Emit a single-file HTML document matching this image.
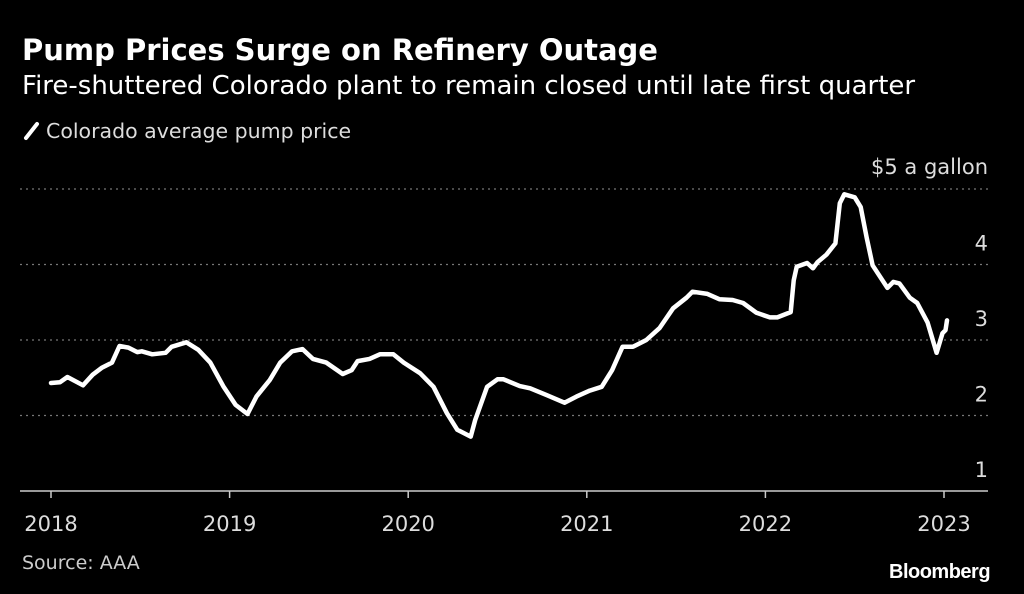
<!DOCTYPE html>
<html><head><meta charset="utf-8"><style>
body{margin:0;background:#000;width:1024px;height:594px;overflow:hidden;font-family:"DejaVu Sans",sans-serif;color:#fff}
.t{position:absolute;white-space:nowrap;line-height:1.15}
</style></head><body>
<div class="t" style="left:22px;top:34px;font-size:29px;font-weight:bold">Pump Prices Surge on Refinery Outage</div>
<div class="t" style="left:22px;top:72px;font-size:26px">Fire-shuttered Colorado plant to remain closed until late first quarter</div>
<div class="t" style="left:22px;top:119px;font-size:20.5px;color:#ddd"><svg width="24" height="22" style="vertical-align:-3px"><line x1="4" y1="19" x2="15" y2="5" stroke="#fff" stroke-width="4" stroke-linecap="round"/></svg>Colorado average pump price</div>
<div class="t" style="left:22px;top:553px;font-size:19px;color:#ccc">Source: AAA</div>
<div class="t" style="left:889px;top:561px;font-family:'Liberation Sans',sans-serif;font-size:20px;font-weight:bold;letter-spacing:-0.5px">Bloomberg</div>
<svg id="chart" width="1024" height="594" style="position:absolute;left:0;top:0"></svg>
<script>
const months=[0,0.6,1.1,2.15,2.8,3.4,4.1,4.6,5.2,5.8,6.1,6.8,7.7,8.1,9.1,9.9,10.7,11.6,12.4,13.2,13.8,14.7,15.4,16.2,16.9,17.6,18.5,19.6,20.2,20.6,21.4,22.1,23.0,23.7,24.8,25.7,26.6,27.3,28.2,28.5,29.3,30.0,30.4,31.5,32.2,33.3,34.5,35.3,36.2,37.0,37.7,38.4,39.1,40.0,40.9,41.8,42.7,43.1,44.1,44.9,45.8,46.5,47.4,48.3,48.8,49.7,49.9,50.1,50.8,51.2,51.5,52.1,52.7,53.0,53.3,54.0,54.4,54.8,55.2,56.2,56.6,57.0,57.7,58.2,58.9,59.5,59.9,60.1,60.2];
const prices=[2.43,2.44,2.51,2.40,2.54,2.63,2.70,2.92,2.90,2.84,2.85,2.81,2.83,2.91,2.97,2.87,2.70,2.38,2.14,2.02,2.25,2.47,2.70,2.85,2.88,2.75,2.70,2.55,2.60,2.72,2.75,2.81,2.81,2.70,2.56,2.38,2.03,1.81,1.72,1.94,2.38,2.48,2.48,2.39,2.36,2.27,2.17,2.25,2.33,2.38,2.60,2.91,2.91,3.0,3.16,3.42,3.56,3.64,3.61,3.54,3.53,3.49,3.36,3.30,3.30,3.37,3.79,3.97,4.02,3.95,4.03,4.13,4.28,4.81,4.93,4.89,4.76,4.36,3.99,3.69,3.77,3.75,3.56,3.49,3.23,2.83,3.09,3.13,3.26];
const yTicks=[1,2,3,4,5];
const yTickLabels=["1","2","3","4","$5 a gallon"];
const xTicks=[2018,2019,2020,2021,2022,2023];
const NS="http://www.w3.org/2000/svg",svg=document.getElementById("chart");
const xs=m=>51+m/12*178.6, ys=v=>340-(v-3)*75.5;
function mk(t,a){const e=document.createElementNS(NS,t);for(const k in a)e.setAttribute(k,a[k]);svg.appendChild(e);return e;}
yTicks.forEach((v,i)=>{
  if(v>1){const g=mk("line",{x1:20,x2:988,y1:ys(v),y2:ys(v),stroke:"#777","stroke-width":1.3,"stroke-dasharray":"2,4"});
  
  }
  const t=mk("text",{x:988,y:ys(v)-(v==5?15:14),"text-anchor":"end","font-size":21,fill:"#ddd","font-family":"DejaVu Sans"});
  t.textContent=yTickLabels[i];
  
  
});
const ax=mk("line",{x1:20,x2:988,y1:491,y2:491,stroke:"#ccc","stroke-width":1.5});


xTicks.forEach(y=>{
  const x=xs((y-2018)*12);
  const tk=mk("line",{x1:x,x2:x,y1:491,y2:498,stroke:"#ccc","stroke-width":1.5});
  
  
  const t=mk("text",{x:x,y:531,"text-anchor":"middle","font-size":21,fill:"#ddd","font-family":"DejaVu Sans"});
  t.textContent=y;
  
  
});
const d=months.map((m,i)=>(i?"L":"M")+xs(m).toFixed(1)+","+ys(prices[i]).toFixed(1)).join("");
const p=mk("path",{d:d,fill:"none",stroke:"#fff","stroke-width":4.5,"stroke-linejoin":"round","stroke-linecap":"round"});


</script>
</body></html>
